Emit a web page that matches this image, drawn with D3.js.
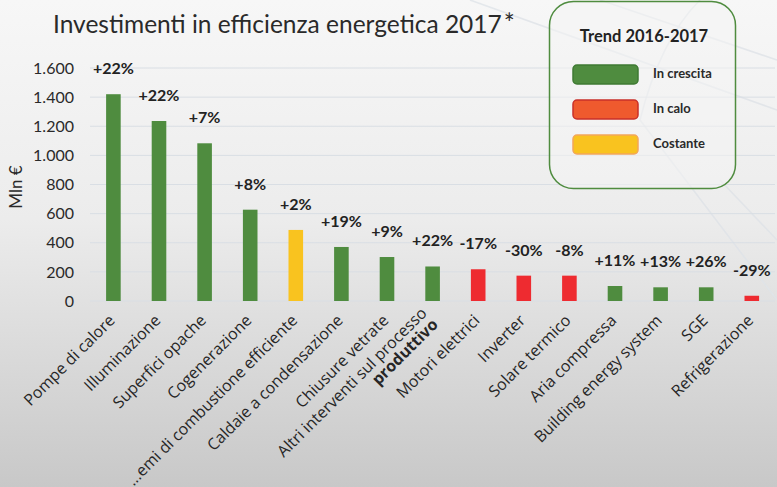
<!DOCTYPE html>
<html><head><meta charset="utf-8">
<script src="https://cdn.jsdelivr.net/npm/d3@7/dist/d3.min.js"></script>
<style>
html,body{margin:0;padding:0;overflow:hidden;}
svg{display:block;font-family:Lato,"Open Sans",sans-serif;}
</style></head>
<body><svg id="c" width="777" height="487"></svg>
<script>
const categories = ["Pompe di calore","Illuminazione","Superfici opache","Cogenerazione","...emi di combustione efficiente","Caldaie a condensazione","Chiusure vetrate","Altri interventi sul processo|produttivo","Motori elettrici","Inverter","Solare termico","Aria compressa","Building energy system","SGE","Refrigerazione"];
const values = [1420,1236,1083,627,488,371,302,237,218,174,174,103,94,94,36];
const changes = ["+22%","+22%","+7%","+8%","+2%","+19%","+9%","+22%","-17%","-30%","-8%","+11%","+13%","+26%","-29%"];
const trends = ["up","up","up","up","flat","up","up","up","down","down","down","up","up","up","down"];
const yTicks = [0,200,400,600,800,1000,1200,1400,1600];
const legendKeys = ["up","down","flat"];
const legendLabels = ["In crescita","In calo","Costante"];

const barColor = {up:"#4f8c3f", down:"#ee2b30", flat:"#f9c31f"};
const swatchFill = {up:"#4f8c3f", down:"#ef5a2e", flat:"#f9c31f"};
const swatchStroke = {up:"#3f7a33", down:"#c9302a", flat:"#f2a65a"};

const svg = d3.select("#c");
const W=777,H=487;
const defs = svg.append("defs");
const g = defs.append("linearGradient").attr("id","bg").attr("x1",0).attr("y1",0).attr("x2",0).attr("y2",1);
g.append("stop").attr("offset","0%").attr("stop-color","#f7f7f7");
g.append("stop").attr("offset","45%").attr("stop-color","#ececec");
g.append("stop").attr("offset","100%").attr("stop-color","#c8c8c8");
svg.append("rect").attr("width",W).attr("height",H).attr("fill","url(#bg)");
// faint decorative lines
const deco = svg.append("g").attr("stroke","#dfe3e8").attr("stroke-width",1.5).attr("fill","none").attr("opacity",0.8);
deco.append("path").attr("d","M600,0 L777,60");
deco.append("path").attr("d","M470,0 L777,110");
deco.append("path").attr("d","M700,0 Q660,40 640,120 L777,300");
deco.append("path").attr("d","M720,180 L777,240");

const x = d3.scaleBand().domain(categories).range([90.6,774.6]).paddingInner(0.68).paddingOuter(0.34);
const y = d3.scaleLinear().domain([0,1600]).range([301,68]);

// gridlines
svg.append("g").selectAll("line").data(yTicks).join("line")
  .attr("x1",90).attr("x2",775).attr("y1",d=>y(d)).attr("y2",d=>y(d))
  .attr("stroke","#d9dee4").attr("stroke-width",1);

// y axis labels
const yAxis = d3.axisLeft(y).tickValues(yTicks).tickSize(0).tickPadding(0)
  .tickFormat(d=>d3.format(",")(d).replace(/,/g,"."));
const ya = svg.append("g").attr("transform","translate(74,0)").call(yAxis);
ya.select(".domain").remove();
ya.selectAll("text").attr("font-size",16).attr("fill","#2a2a2a").attr("font-family","Lato,sans-serif");

svg.append("text").attr("transform","translate(22,187) rotate(-90)")
  .attr("text-anchor","middle").attr("font-size",17).attr("fill","#2a2a2a").text("Mln €");

// bars
svg.append("g").selectAll("rect").data(categories).join("rect")
  .attr("x",d=>x(d)).attr("width",x.bandwidth())
  .attr("y",(d,i)=>y(values[i])).attr("height",(d,i)=>y(0)-y(values[i]))
  .attr("fill",(d,i)=>barColor[trends[i]]);

// percent labels
svg.append("g").selectAll("text").data(categories).join("text")
  .attr("x",d=>x(d)+x.bandwidth()/2).attr("y",(d,i)=>y(values[i])-20)
  .attr("text-anchor","middle").attr("font-size",16).attr("font-weight","bold").attr("fill","#222")
  .text((d,i)=>changes[i]);

// x labels
const xl = svg.append("g").selectAll("text").data(categories).join("text")
  .attr("transform",d=>`translate(${x(d)+x.bandwidth()/2-6},${313}) rotate(-45)`)
  .attr("text-anchor","end").attr("font-size",16).attr("font-weight",500).attr("fill","#262626").attr("font-family","'Open Sans',sans-serif");
xl.each(function(d){
  const parts = d.split("|");
  const t = d3.select(this);
  if(parts.length===1){ t.append("tspan").attr("dy","0.75em").text(d); }
  else {
    t.append("tspan").attr("x",0).attr("dy","0.1em").text(parts[0]);
    t.append("tspan").attr("x",0).attr("dy","1.0em").attr("font-weight","bold").text(parts[1]);
  }
});

// title
const title = svg.append("text").attr("x",53).attr("y",33).attr("font-size",24.5).attr("fill","#2a2a2a")
  .text("Investimenti in efficienza energetica 2017");
title.append("tspan").attr("dx",2).attr("font-size",26).text("*");

// legend
const lg = svg.append("g");
lg.append("rect").attr("x",549.5).attr("y",1.5).attr("width",186).attr("height",187).attr("rx",24)
  .attr("fill","#f4f4f4").attr("fill-opacity",0.55).attr("stroke","#4f8c3f").attr("stroke-width",1.5);
lg.append("text").attr("x",644).attr("y",42).attr("text-anchor","middle").attr("font-size",16.5)
  .attr("font-weight","bold").attr("fill","#222").text("Trend 2016-2017");
const items = lg.selectAll("g.it").data(legendKeys).join("g").attr("class","it")
  .attr("transform",(d,i)=>`translate(0,${65+i*35})`);
items.append("rect").attr("x",573).attr("y",0).attr("width",65).attr("height",19).attr("rx",4)
  .attr("fill",d=>swatchFill[d]).attr("stroke",d=>swatchStroke[d]).attr("stroke-width",1.5);
items.append("text").attr("x",653).attr("y",13).attr("font-size",13).attr("font-weight","bold")
  .attr("fill","#2a2a2a").text((d,i)=>legendLabels[i]);
</script></body></html>
